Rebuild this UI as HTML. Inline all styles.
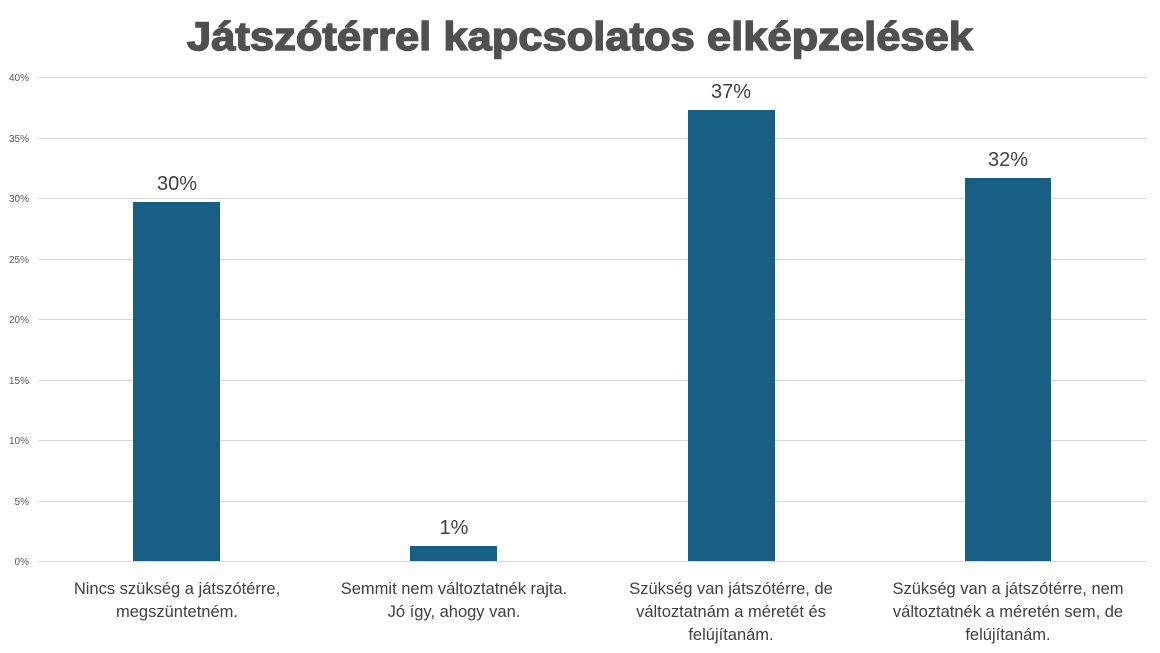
<!DOCTYPE html>
<html><head><meta charset="utf-8"><style>body{margin:0;background:#fff}svg{display:block}</style></head><body>
<svg width="1160" height="653" viewBox="0 0 1160 653" font-family="Liberation Sans, sans-serif">
<rect width="1160" height="653" fill="#fff"/>
<text x="580" y="50" text-anchor="middle" font-size="40" font-weight="bold" fill="#505050" stroke="#505050" stroke-width="1.4" textLength="786" lengthAdjust="spacingAndGlyphs">Játszótérrel kapcsolatos elképzelések</text>
<g stroke="#d9d9d9" stroke-width="1">
<line x1="38" x2="1147" y1="77.5" y2="77.5"/><line x1="38" x2="1147" y1="138.5" y2="138.5"/>
<line x1="38" x2="1147" y1="198.5" y2="198.5"/><line x1="38" x2="1147" y1="259.5" y2="259.5"/>
<line x1="38" x2="1147" y1="319.5" y2="319.5"/><line x1="38" x2="1147" y1="380.5" y2="380.5"/>
<line x1="38" x2="1147" y1="440.5" y2="440.5"/><line x1="38" x2="1147" y1="501.5" y2="501.5"/>
<line x1="38" x2="1147" y1="561.5" y2="561.5"/>
</g>
<g font-size="10" fill="#595959" text-anchor="end">
<text x="29" y="81">40%</text><text x="29" y="142">35%</text><text x="29" y="202">30%</text>
<text x="29" y="263">25%</text><text x="29" y="323">20%</text><text x="29" y="384">15%</text>
<text x="29" y="444">10%</text><text x="29" y="505">5%</text><text x="29" y="565">0%</text>
</g>
<g fill="#175f83">
<rect x="133" y="202" width="87" height="359"/>
<rect x="410" y="546" width="87" height="15"/>
<rect x="688" y="110" width="87" height="451"/>
<rect x="965" y="178" width="86" height="383"/>
</g>
<g font-size="20" fill="#404040" text-anchor="middle">
<text x="177" y="190">30%</text><text x="454" y="534">1%</text>
<text x="731" y="98">37%</text><text x="1008" y="166">32%</text>
</g>
<g font-size="16.5" fill="#404040" text-anchor="middle">
<text x="177" y="594">Nincs szükség a játszótérre,</text><text x="177" y="617">megszüntetném.</text>
<text x="454" y="594">Semmit nem változtatnék rajta.</text><text x="454" y="617">Jó így, ahogy van.</text>
<text x="731" y="594">Szükség van játszótérre, de</text><text x="731" y="617">változtatnám a méretét és</text><text x="731" y="640">felújítanám.</text>
<text x="1008" y="594">Szükség van a játszótérre, nem</text><text x="1008" y="617">változtatnék a méretén sem, de</text><text x="1008" y="640">felújítanám.</text>
</g>
</svg>
</body></html>
